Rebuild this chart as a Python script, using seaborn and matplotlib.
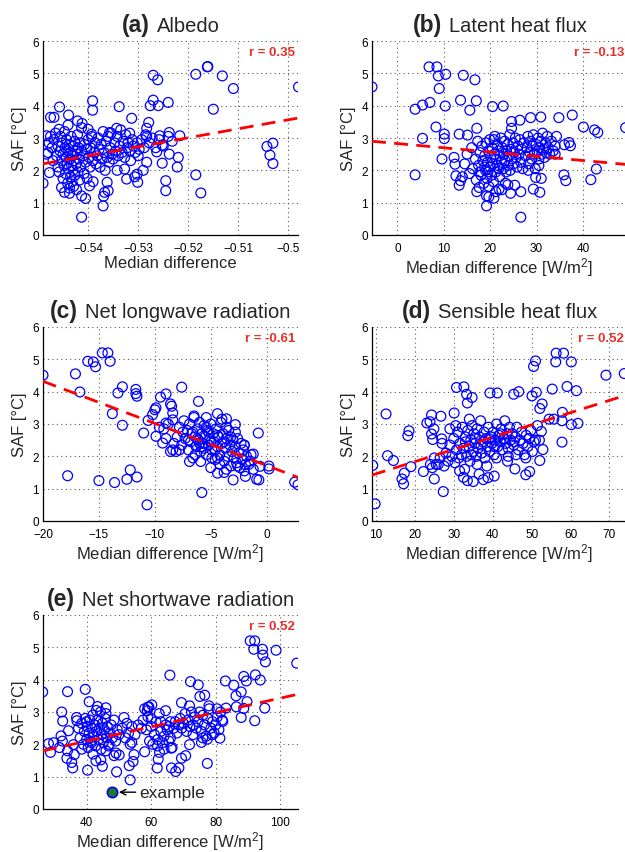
import numpy as np
import pandas as pd
import matplotlib
matplotlib.use("Agg")
import matplotlib.pyplot as plt
import seaborn as sns
from matplotlib.offsetbox import TextArea, HPacker, AnchoredOffsetbox

# ---------------- data ----------------
albedo_pts = [
    (-0.5490, 1.60), (-0.5413, 0.55), (-0.5370, 0.90), (-0.5270, 4.94), (-0.5261, 4.80),
    (-0.5185, 4.97), (-0.5162, 5.20), (-0.5161, 5.21), (-0.5132, 4.92), (-0.5110, 4.53),
    (-0.4980, 4.58), (-0.5150, 3.89), (-0.5043, 2.74), (-0.5031, 2.84), (-0.5037, 2.47),
    (-0.5031, 2.21), (-0.5185, 1.86), (-0.5175, 1.30), (-0.5217, 3.07), (-0.5220, 2.40),
    (-0.5222, 2.10), (-0.5240, 4.10), (-0.5238, 3.17), (-0.5238, 2.50), (-0.5245, 1.68),
    (-0.5245, 1.37), (-0.5252, 2.78), (-0.5252, 2.22), (-0.5260, 4.00), (-0.5270, 4.17),
    (-0.5276, 4.00), (-0.5257, 3.07), (-0.5263, 2.57), (-0.5279, 3.48), (-0.5283, 3.30),
    (-0.5285, 3.10), (-0.5283, 2.25), (-0.5290, 2.00), (-0.5300, 2.45), (-0.5302, 1.88),
    (-0.5307, 1.80), (-0.5301, 1.63), (-0.5313, 3.61), (-0.5317, 3.15), (-0.5323, 1.73),
    (-0.5327, 2.04), (-0.5338, 3.97), (-0.5343, 3.30), (-0.5342, 2.00), (-0.5357, 3.17),
    (-0.5362, 1.63), (-0.5360, 1.37), (-0.5367, 1.32), (-0.5369, 1.20), (-0.5391, 4.15),
    (-0.5391, 3.86), (-0.5393, 3.12), (-0.5413, 1.21), (-0.5405, 1.13), (-0.5397, 1.52),
    (-0.5413, 3.32), (-0.5400, 3.27), (-0.5421, 3.53), (-0.5439, 3.71), (-0.5457, 3.96),
    (-0.5475, 3.64), (-0.5468, 3.64), (-0.5483, 3.07), (-0.5483, 2.50), (-0.5477, 1.93),
    (-0.5453, 1.47), (-0.5447, 1.32), (-0.5437, 1.29), (-0.5458, 3.27),
    (-0.5480, 2.55), (-0.5478, 2.85), (-0.5475, 3.05), (-0.5472, 2.70), (-0.5470, 2.30),
    (-0.5468, 2.95), (-0.5465, 3.15), (-0.5463, 2.45), (-0.5460, 2.10), (-0.5460, 2.75),
    (-0.5458, 1.95), (-0.5456, 2.60), (-0.5455, 3.05), (-0.5453, 2.30), (-0.5452, 2.85),
    (-0.5450, 1.75), (-0.5450, 2.50), (-0.5448, 2.15), (-0.5447, 3.20), (-0.5446, 2.70),
    (-0.5445, 1.90), (-0.5444, 2.40), (-0.5443, 2.95), (-0.5442, 2.20), (-0.5441, 1.60),
    (-0.5440, 2.60), (-0.5440, 3.40), (-0.5439, 2.05), (-0.5438, 2.80), (-0.5437, 1.45),
    (-0.5436, 2.35), (-0.5435, 2.55), (-0.5435, 1.80), (-0.5434, 3.05), (-0.5433, 2.15),
    (-0.5432, 1.65), (-0.5431, 2.45), (-0.5430, 2.00), (-0.5430, 2.75), (-0.5429, 1.50),
    (-0.5428, 2.30), (-0.5427, 2.90), (-0.5426, 1.85), (-0.5425, 2.60), (-0.5424, 2.20),
    (-0.5423, 1.40), (-0.5422, 2.50), (-0.5421, 3.10), (-0.5420, 1.95), (-0.5419, 2.70),
    (-0.5418, 2.35), (-0.5417, 1.70), (-0.5416, 2.85), (-0.5415, 2.10), (-0.5413, 2.60),
    (-0.5412, 3.45), (-0.5410, 2.45), (-0.5408, 1.90), (-0.5407, 2.80), (-0.5405, 2.25),
    (-0.5403, 2.65), (-0.5402, 1.75), (-0.5400, 2.95), (-0.5398, 2.40), (-0.5396, 2.10),
    (-0.5395, 2.70), (-0.5393, 3.05), (-0.5391, 2.30), (-0.5390, 1.65), (-0.5388, 2.55),
    (-0.5386, 2.85), (-0.5384, 2.20), (-0.5382, 2.45), (-0.5380, 3.00), (-0.5378, 2.65),
    (-0.5376, 2.10), (-0.5374, 2.80), (-0.5372, 2.35), (-0.5370, 3.20), (-0.5368, 2.55),
    (-0.5366, 2.00), (-0.5364, 2.90), (-0.5362, 2.40), (-0.5360, 3.05), (-0.5358, 2.25),
    (-0.5356, 2.70), (-0.5354, 3.15), (-0.5352, 2.50), (-0.5350, 2.35), (-0.5347, 2.85),
    (-0.5345, 2.60), (-0.5342, 3.05), (-0.5340, 2.45), (-0.5337, 2.75), (-0.5335, 3.25),
    (-0.5332, 2.55), (-0.5330, 2.90), (-0.5327, 2.40), (-0.5325, 3.10), (-0.5322, 2.70),
    (-0.5320, 2.85), (-0.5317, 2.60), (-0.5315, 2.30), (-0.5312, 2.95), (-0.5310, 2.75),
    (-0.5306, 2.55), (-0.5302, 2.85), (-0.5298, 2.65), (-0.5293, 2.95), (-0.5288, 2.70),
    (-0.5283, 3.05), (-0.5278, 2.85), (-0.5272, 3.00), (-0.5265, 2.70), (-0.5258, 2.95),
    (-0.5250, 2.75), (-0.5240, 3.05), (-0.5232, 2.90),
]

latent_pts = [
    (-5.5, 4.58), (6.8, 5.20), (8.5, 5.20), (8.8, 4.92), (10.4, 4.97), (14.2, 4.94),
    (16.7, 4.80), (9.0, 4.53), (3.8, 3.89), (5.4, 4.02), (7.0, 4.10), (10.3, 3.99),
    (13.6, 4.17), (17.0, 4.15), (15.6, 3.86), (20.5, 3.97), (22.8, 3.99), (8.3, 3.34),
    (5.4, 2.99), (10.1, 3.12), (10.1, 2.98), (9.6, 2.35), (3.8, 1.86), (13.3, 3.12),
    (15.1, 3.09), (17.1, 3.30), (24.6, 3.51), (24.6, 3.30), (26.4, 3.55), (28.7, 3.63),
    (30.9, 3.65), (34.8, 3.63), (37.7, 3.71), (40.1, 3.34), (42.5, 3.25), (43.2, 3.17),
    (49.2, 3.32), (36.0, 2.79), (37.0, 2.86), (37.3, 2.76), (35.9, 1.86), (36.3, 1.68),
    (41.7, 1.71), (42.9, 2.04), (26.6, 1.34), (26.6, 0.55), (29.3, 1.42), (30.7, 1.32),
    (29.8, 1.78), (24.4, 1.29), (25.3, 1.54), (23.3, 1.60), (19.2, 0.90), (19.2, 1.21),
    (19.7, 1.18), (20.8, 1.14), (21.2, 1.34), (21.9, 1.42), (13.3, 1.54), (13.6, 1.68),
    (14.0, 1.80), (12.2, 2.40), (12.4, 2.19), (12.6, 1.83), (17.1, 1.34), (17.6, 1.47),
    (14.5, 2.20), (15.0, 2.50), (15.5, 1.90), (16.0, 2.70), (16.2, 2.05), (16.8, 2.35),
    (17.0, 1.70), (17.3, 2.90), (17.5, 2.15), (17.8, 2.55), (18.0, 1.85), (18.2, 2.75),
    (18.4, 2.30), (18.6, 1.60), (18.8, 2.45), (19.0, 2.00), (19.1, 2.85), (19.3, 1.75),
    (19.4, 2.25), (19.6, 2.60), (19.7, 1.50), (19.9, 2.95), (20.0, 2.10), (20.1, 2.40),
    (20.3, 1.85), (20.4, 2.70), (20.6, 2.20), (20.7, 1.65), (20.9, 2.50), (21.0, 3.05),
    (21.2, 1.95), (21.3, 2.35), (21.5, 2.80), (21.6, 2.15), (21.8, 2.60), (22.0, 1.80),
    (22.1, 2.45), (22.3, 3.00), (22.4, 2.25), (22.6, 2.70), (22.8, 2.05), (22.9, 2.50),
    (23.1, 2.90), (23.2, 2.30), (23.4, 1.95), (23.5, 2.60), (23.7, 2.80), (23.9, 2.15),
    (24.0, 2.45), (24.2, 3.10), (24.3, 2.00), (24.5, 2.65), (24.7, 2.35), (24.9, 2.85),
    (25.0, 2.20), (25.2, 2.55), (25.4, 3.00), (25.6, 2.40), (25.8, 2.10), (26.0, 2.75),
    (26.2, 2.50), (26.4, 2.95), (26.6, 2.25), (26.8, 2.65), (27.0, 2.05), (27.3, 2.85),
    (27.6, 2.45), (27.9, 2.70), (28.1, 3.05), (28.3, 2.20), (28.5, 2.55), (28.7, 2.90),
    (28.9, 2.35), (29.1, 2.75), (29.3, 3.10), (29.5, 2.50), (29.7, 2.05), (29.9, 2.80),
    (30.1, 2.60), (30.3, 3.00), (30.5, 2.35), (30.7, 2.70), (30.9, 2.90), (31.1, 2.50),
    (31.3, 3.15), (31.5, 2.65), (31.7, 2.40), (31.9, 2.85), (32.1, 2.55), (32.3, 3.05),
    (32.5, 2.70), (32.8, 2.50), (33.2, 2.90), (33.6, 2.60), (34.0, 2.75), (34.3, 3.05),
    (34.0, 2.50), (30.5, 2.15), (31.0, 1.75), (28.2, 2.00), (22.5, 1.40), (23.8, 1.55),
    (19.5, 1.95), (21.8, 2.05), (20.8, 2.95), (18.8, 2.10), (17.8, 1.95),
]

longwave_pts = [
    (-20.0, 4.51), (-17.1, 4.55), (-16.7, 3.99), (-16.0, 4.94), (-15.5, 4.92), (-15.3, 4.77),
    (-14.7, 5.20), (-14.2, 5.20), (-14.0, 4.94), (-13.3, 3.96), (-12.9, 4.15), (-13.8, 3.32),
    (-12.9, 2.96), (-11.7, 4.07), (-11.7, 3.94), (-11.6, 3.86), (-11.0, 2.72), (-10.6, 3.11),
    (-17.8, 1.40), (-15.0, 1.25), (-13.6, 1.19), (-12.5, 1.29), (-12.2, 1.58), (-11.6, 1.36),
    (-10.7, 0.50), (-5.8, 0.88), (-10.2, 3.29), (-10.0, 3.44), (-9.9, 3.50), (-9.9, 2.62),
    (-9.3, 2.41), (-9.0, 3.03), (-9.5, 3.83), (-9.0, 3.93), (-8.6, 3.62), (-8.5, 3.55),
    (-7.6, 4.14), (-6.1, 3.70), (-8.4, 3.34), (-8.4, 3.13), (-8.4, 2.20), (-8.1, 2.15),
    (-0.75, 2.72), (2.5, 1.20), (2.8, 1.12), (0.2, 1.61), (0.2, 1.70), (-0.6, 1.69),
    (-0.9, 1.29), (-0.7, 1.27), (-1.2, 2.07), (-2.0, 2.34), (-1.9, 1.74), (-1.9, 1.38),
    (-4.4, 3.32), (-3.6, 3.16), (-2.8, 2.98), (-4.4, 1.48), (-3.8, 1.50), (-3.0, 1.27),
    (-6.9, 1.84), (-5.9, 1.84),
    (-8.0, 2.60), (-7.8, 2.90), (-7.6, 2.35), (-7.4, 3.10), (-7.3, 2.55), (-7.1, 2.80),
    (-7.0, 2.20), (-6.9, 3.00), (-6.8, 2.45), (-6.7, 2.70), (-6.6, 1.95), (-6.5, 3.20),
    (-6.4, 2.60), (-6.3, 2.30), (-6.2, 2.85), (-6.1, 2.50), (-6.0, 3.05), (-5.9, 2.15),
    (-5.8, 2.70), (-5.7, 2.40), (-5.6, 2.95), (-5.5, 2.60), (-5.4, 2.05), (-5.3, 2.80),
    (-5.2, 2.35), (-5.1, 2.55), (-5.0, 3.00), (-4.9, 2.20), (-4.8, 2.70), (-4.7, 2.45),
    (-4.6, 1.90), (-4.5, 2.85), (-4.4, 2.30), (-4.3, 2.60), (-4.2, 2.05), (-4.1, 3.05),
    (-4.0, 2.40), (-3.9, 2.70), (-3.8, 1.85), (-3.7, 2.25), (-3.6, 2.55), (-3.5, 2.00),
    (-3.4, 2.80), (-3.3, 2.35), (-3.2, 1.70), (-3.1, 2.15), (-3.0, 2.50), (-2.9, 1.95),
    (-2.8, 2.30), (-2.7, 1.80), (-2.6, 2.55), (-2.5, 2.10), (-2.4, 1.65), (-2.3, 2.40),
    (-2.2, 1.90), (-2.1, 2.20), (-2.0, 1.55), (-1.8, 2.00), (-1.6, 1.75), (-1.4, 2.05),
    (-1.2, 1.60), (-5.6, 2.25), (-6.2, 2.55), (-5.0, 2.45), (-4.4, 2.65), (-3.8, 2.45),
    (-6.6, 2.75), (-7.0, 2.50), (-5.8, 2.30), (-4.9, 1.95), (-4.2, 1.75), (-3.6, 1.60),
    (-6.4, 2.05), (-5.2, 2.75), (-4.6, 2.20), (-3.2, 2.60), (-2.6, 1.70), (-6.0, 2.40),
    (-5.4, 2.90), (-7.5, 2.75), (-8.3, 2.40), (-8.6, 2.15), (-9.2, 2.85), (-9.6, 2.90),
    (-8.8, 3.00), (-9.0, 2.55), (-2.8, 2.75), (-3.6, 2.90), (-4.0, 3.15), (-5.4, 3.20),
    (-6.5, 3.25), (-7.8, 2.20), (-5.0, 1.65), (-4.4, 1.95), (-2.0, 2.35), (-1.5, 1.85),
]

sensible_pts = [
    (9.2, 1.72), (9.8, 0.53), (12.6, 3.31), (13.0, 2.02), (14.5, 1.87), (16.7, 1.30),
    (17.3, 1.48), (17.1, 1.15), (18.2, 2.64), (18.5, 2.79), (19.0, 1.68), (22.2, 1.53),
    (23.1, 3.03), (23.9, 3.07), (24.3, 2.69), (24.3, 3.28), (24.6, 2.52), (24.9, 2.85),
    (25.0, 1.30), (27.3, 0.91), (26.7, 3.24), (26.9, 2.54), (30.1, 3.34), (30.7, 4.13),
    (32.6, 4.15), (33.3, 3.92), (33.5, 3.65), (34.7, 3.82), (35.0, 1.22), (37.6, 1.28),
    (38.8, 1.34), (40.4, 1.39), (39.3, 3.96), (41.2, 3.96), (43.8, 1.85), (45.7, 1.61),
    (45.4, 3.92), (46.7, 4.00), (48.5, 1.43), (49.5, 1.53), (50.1, 3.87), (51.2, 3.98),
    (50.5, 4.78), (51.0, 4.95), (52.1, 1.87), (52.9, 2.21), (52.5, 2.77), (52.7, 3.62),
    (52.1, 3.48), (55.3, 4.08), (54.5, 3.15), (56.2, 4.92), (56.3, 5.19), (58.2, 5.19),
    (60.2, 4.92), (59.1, 4.16), (61.5, 4.03), (57.8, 2.44), (57.8, 3.10), (57.9, 3.36),
    (60.2, 2.98), (61.9, 3.02), (69.1, 4.51), (73.8, 4.56), (55.7, 3.15),
    (25.5, 1.75), (26.5, 1.95), (27.5, 1.70), (28.0, 2.10), (28.5, 1.85), (29.0, 2.35),
    (29.5, 2.00), (30.0, 2.55), (30.3, 1.80), (30.7, 2.20), (31.0, 2.75), (31.3, 1.95),
    (31.6, 2.40), (32.0, 2.05), (32.2, 2.90), (32.5, 2.25), (32.8, 1.60), (33.0, 2.60),
    (33.3, 2.00), (33.6, 2.80), (33.9, 2.30), (34.2, 1.85), (34.4, 2.50), (34.7, 2.95),
    (35.0, 2.15), (35.2, 2.70), (35.5, 2.40), (35.8, 2.00), (36.0, 2.85), (36.3, 2.25),
    (36.6, 2.60), (36.9, 3.10), (37.2, 2.10), (37.5, 2.45), (37.8, 2.75), (38.0, 1.95),
    (38.3, 2.55), (38.6, 2.30), (38.9, 2.90), (39.2, 2.15), (39.5, 2.60), (39.8, 2.40),
    (40.1, 2.75), (40.4, 2.05), (40.7, 2.50), (41.0, 3.00), (41.3, 2.30), (41.6, 2.65),
    (41.9, 2.45), (42.2, 2.85), (42.5, 2.20), (42.8, 2.55), (43.1, 3.10), (43.4, 2.40),
    (43.7, 2.70), (44.0, 2.25), (44.3, 2.90), (44.6, 2.50), (45.0, 2.70), (45.4, 2.35),
    (45.8, 2.60), (46.2, 2.90), (46.6, 2.20), (47.0, 2.50), (47.4, 2.75), (47.8, 2.40),
    (48.2, 2.05), (48.6, 2.65), (49.0, 2.30), (49.4, 2.55), (49.8, 2.80), (50.2, 2.15),
    (50.6, 2.45), (51.0, 2.50), (51.5, 2.95), (52.0, 2.50), (30.5, 2.95), (34.0, 3.15),
    (36.0, 1.75), (38.5, 1.70), (31.5, 1.55), (32.5, 1.35), (33.5, 1.25), (36.5, 1.45),
    (44.0, 2.00), (46.0, 2.05), (48.5, 1.95), (42.0, 2.70), (39.0, 2.55), (37.0, 2.35),
    (35.5, 2.55), (40.5, 2.30), (43.0, 2.55), (45.5, 2.45), (34.5, 2.05), (33.0, 2.45),
    (41.0, 1.95), (27.0, 2.40), (29.0, 2.85), (25.0, 1.95), (26.0, 1.75), (24.0, 1.75),
    (24.5, 1.65),
]

shortwave_pts = [
    (26.4, 3.62), (28.2, 2.02), (29.8, 2.05), (28.8, 1.75), (34.1, 3.63), (34.4, 2.42),
    (32.3, 3.00), (32.6, 2.72), (32.1, 2.26), (32.5, 2.10), (31.6, 1.90), (34.1, 1.80),
    (33.9, 1.57), (35.4, 1.44), (35.7, 1.27), (36.2, 1.68), (35.9, 1.99), (36.9, 2.83),
    (37.0, 2.73), (39.6, 3.70), (40.8, 3.32), (40.3, 1.20), (43.4, 3.17), (42.9, 1.49),
    (44.4, 1.52), (44.9, 1.32), (46.0, 3.13), (46.0, 1.80), (48.5, 1.65), (49.1, 1.73),
    (50.1, 1.67), (49.3, 1.15), (53.5, 0.90), (53.2, 1.34), (51.6, 2.83), (54.0, 2.06),
    (54.7, 1.68), (54.4, 1.47), (58.0, 1.77), (58.8, 3.04), (59.3, 3.16), (60.2, 3.22),
    (61.9, 1.27), (62.2, 1.54), (62.6, 1.75), (64.5, 3.04), (65.8, 4.14), (66.2, 1.88),
    (66.3, 1.27), (67.6, 1.16), (68.6, 1.27), (69.4, 1.57), (69.4, 3.29), (70.7, 1.65),
    (71.9, 1.99), (72.2, 3.94), (71.9, 3.19), (74.6, 3.84), (75.1, 3.48), (76.6, 3.52),
    (75.6, 2.06), (77.4, 1.41), (77.4, 2.16), (77.9, 3.19), (80.4, 3.10), (81.3, 2.19),
    (82.2, 2.71), (83.0, 3.96), (83.2, 3.12), (85.6, 3.83), (86.3, 3.50), (86.4, 3.16),
    (87.9, 3.62), (87.9, 2.83), (88.7, 4.10), (89.5, 3.96), (88.7, 3.11), (89.7, 3.32),
    (92.1, 2.73), (90.7, 5.20), (92.1, 5.20), (91.8, 4.94), (92.3, 4.15), (93.8, 3.99),
    (94.5, 4.94), (94.6, 4.76), (95.4, 4.55), (95.2, 3.12), (98.7, 4.91), (105.1, 4.51),
    (37.5, 2.50), (38.0, 2.20), (38.5, 2.65), (39.0, 2.00), (39.3, 2.40), (39.6, 2.80),
    (40.0, 2.15), (40.2, 2.55), (40.5, 1.90), (40.8, 2.35), (41.0, 2.75), (41.3, 2.10),
    (41.6, 2.50), (41.9, 2.90), (42.2, 2.25), (42.5, 2.60), (42.8, 1.95), (43.1, 2.40),
    (43.4, 2.75), (43.7, 2.15), (44.0, 2.50), (44.3, 3.00), (44.6, 2.30), (44.9, 2.65),
    (45.2, 2.05), (45.5, 2.45), (45.8, 2.80), (46.1, 2.20), (46.4, 2.55), (46.8, 1.95),
    (47.2, 2.35), (47.6, 2.60), (48.0, 2.20), (48.5, 2.75), (49.0, 2.10), (49.5, 2.45),
    (50.0, 2.30), (43.0, 3.05), (41.5, 2.05), (44.5, 1.85), (42.0, 1.70), (46.0, 2.95),
    (40.0, 2.70), (38.5, 1.85), (47.0, 2.00),
    (51.0, 2.50), (52.0, 2.20), (52.5, 2.65), (53.0, 2.35), (53.5, 2.00), (54.0, 2.55),
    (55.0, 2.30), (56.0, 2.60), (57.0, 2.50), (57.5, 2.75), (58.0, 3.10), (58.5, 2.45),
    (59.0, 2.85), (59.5, 2.10), (60.0, 2.55), (60.5, 2.00), (61.0, 2.30), (61.5, 2.70),
    (62.0, 2.15), (62.5, 2.95), (63.0, 2.40), (63.5, 2.05), (64.0, 2.25), (64.5, 2.60),
    (65.0, 2.45), (65.5, 2.10), (66.0, 2.70), (66.5, 1.90), (67.0, 2.50), (67.5, 2.70),
    (68.0, 2.35), (68.5, 2.60), (69.0, 2.80), (69.5, 2.50), (70.0, 2.65), (70.5, 2.95),
    (71.0, 2.40), (71.5, 2.75), (72.0, 2.55), (72.5, 3.00), (73.0, 2.30), (73.5, 2.85),
    (74.0, 2.50), (74.5, 2.70), (75.0, 3.00), (75.5, 2.40), (76.0, 2.90), (76.5, 2.60),
    (77.0, 2.25), (77.5, 2.80), (78.0, 3.10), (78.5, 2.50), (79.0, 2.70), (79.5, 2.35),
    (80.0, 2.60), (80.5, 2.85), (81.0, 2.45), (81.5, 3.00), (82.0, 2.75), (60.0, 2.80),
    (59.0, 3.15), (63.0, 2.70), (65.5, 2.55), (62.0, 1.95), (64.0, 1.85), (66.0, 2.20),
    (73.0, 2.60), (76.0, 2.20), (79.0, 2.30),
]

# regression line end points
albedo_fit = [(-0.549, 2.20), (-0.498, 3.62)]
latent_fit = [(-5.5, 2.90), (49.5, 2.18)]
longwave_fit = [(-20.0, 4.32), (2.8, 1.35)]
sensible_fit = [(9.0, 1.42), (75.0, 3.92)]
shortwave_fit = [(26.5, 1.80), (105.5, 3.55)]

panel_letters = ["(a)", "(b)", "(c)", "(d)", "(e)"]
panel_names = ["Albedo", "Latent heat flux", "Net longwave radiation",
               "Sensible heat flux", "Net shortwave radiation"]
r_values = ["r = 0.35", "r = -0.13", "r = -0.61", "r = 0.52", "r = 0.52"]
x_labels = ["Median difference", "Median difference [W/m$^{2}$]",
            "Median difference [W/m$^{2}$]", "Median difference [W/m$^{2}$]",
            "Median difference [W/m$^{2}$]"]
x_ticks = [[-0.54, -0.53, -0.52, -0.51, -0.50], [0, 10, 20, 30, 40],
           [-20, -15, -10, -5, 0], [10, 20, 30, 40, 50, 60, 70], [40, 60, 80, 100]]
x_ticklabels = [["\u22120.54", "\u22120.53", "\u22120.52", "\u22120.51", "\u22120.5"],
                ["0", "10", "20", "30", "40"],
                ["\u221220", "\u221215", "\u221210", "\u22125", "0"],
                ["10", "20", "30", "40", "50", "60", "70"],
                ["40", "60", "80", "100"]]
x_limits = [(-0.549, -0.4981), (-5.5, 49.5), (-20, 2.8), (9, 74.5), (26.5, 105.5)]
y_ticks = [0, 1, 2, 3, 4, 5, 6]
example_point = (48.0, 0.52)
example_label = "example"

# ---------------- style ----------------
sns.set_style("white")
plt.rcParams["font.family"] = ["Liberation Sans", "DejaVu Sans"]
plt.rcParams["mathtext.fontset"] = "custom"
plt.rcParams["mathtext.rm"] = "Liberation Sans"
plt.rcParams["mathtext.it"] = "Liberation Sans:italic"
plt.rcParams["mathtext.bf"] = "Liberation Sans:bold"

fig = plt.figure(figsize=(6.25, 8.53), dpi=100)
W, H = 625.0, 853.0
ax_px = [(43, 42), (372, 42), (43, 328), (372, 328), (43, 616)]
AW, AH = 255.0, 194.0

all_pts = [albedo_pts, latent_pts, longwave_pts, sensible_pts, shortwave_pts]
all_fits = [albedo_fit, latent_fit, longwave_fit, sensible_fit, shortwave_fit]

for i in range(5):
    lx, ty = ax_px[i]
    ax = fig.add_axes([lx / W, 1 - (ty + AH) / H, AW / W, AH / H])
    df = pd.DataFrame(all_pts[i], columns=["x", "saf"])
    fit = pd.DataFrame(all_fits[i], columns=["x", "saf"])
    ax.set_axisbelow(True)
    ax.grid(True, linestyle=(0, (1, 3)), color="0.35", linewidth=0.8)
    sns.scatterplot(data=df, x="x", y="saf", ax=ax, marker="o", s=50,
                    facecolors="none", edgecolor="#0000ff", linewidth=0.9,
                    zorder=3, clip_on=True)
    sns.lineplot(data=fit, x="x", y="saf", ax=ax, color="#ff0000", linewidth=2.0,
                 dashes=False, zorder=4)
    ax.lines[-1].set_dashes((5, 3))
    ax.set_xlim(*x_limits[i])
    ax.set_ylim(0, 6)
    ax.set_xticks(x_ticks[i])
    ax.set_xticklabels(x_ticklabels[i])
    ax.set_yticks(y_ticks)
    ax.set_yticklabels([str(v) for v in y_ticks])
    ax.tick_params(direction="in", length=3, width=0.8, labelsize=8.5,
                   colors="black")
    ax.tick_params(axis="x", pad=5)
    ax.tick_params(axis="y", pad=3)
    for side in ["top", "right"]:
        ax.spines[side].set_visible(False)
    for side in ["left", "bottom"]:
        ax.spines[side].set_color("black")
        ax.spines[side].set_linewidth(0.9)
    ax.set_xlabel(x_labels[i], fontsize=12, labelpad=1)
    ax.set_ylabel("SAF [\u00b0C]", fontsize=12, labelpad=4)
    ax.text(0.988, 0.945, r_values[i], transform=ax.transAxes, ha="right",
            va="center", color="#e8302a", fontweight="bold", fontsize=9.5)
    # title: bold letter + normal name, centred
    t1 = TextArea(panel_letters[i], textprops=dict(fontsize=16.5, fontweight="bold"))
    t2 = TextArea(panel_names[i], textprops=dict(fontsize=14.5))
    pack = HPacker(children=[t1, t2], align="baseline", pad=0, sep=5)
    ab = AnchoredOffsetbox(loc="lower center", child=pack, pad=0, frameon=False,
                           bbox_to_anchor=(0.5, 1.025), bbox_transform=ax.transAxes,
                           borderpad=0)
    ax.add_artist(ab)
    if i == 4:
        ex = pd.DataFrame([example_point], columns=["x", "saf"])
        sns.scatterplot(data=ex, x="x", y="saf", ax=ax, marker="o", s=55,
                        color="#1e7b1e", edgecolor="#0000ff", linewidth=1.2, zorder=5)
        ax.annotate("", xy=(example_point[0] + 2.0, example_point[1]),
                    xytext=(example_point[0] + 7.2, example_point[1]),
                    arrowprops=dict(arrowstyle="->", lw=1.0, color="black",
                                    shrinkA=0, shrinkB=0, mutation_scale=10))
        ax.text(example_point[0] + 8.4, example_point[1], example_label,
                fontsize=12.5, va="center", ha="left")

fig.savefig("out.png", dpi=100)
